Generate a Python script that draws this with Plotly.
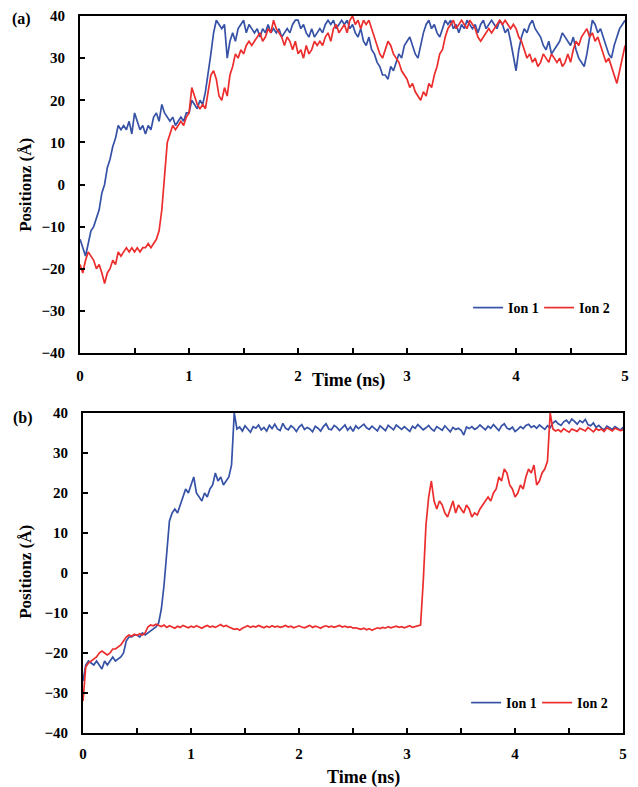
import plotly.graph_objects as go

# ---------------- data ----------------
TIME = [round(i * 0.025, 3) for i in range(201)]

A_ION1 = [
    -13, -15, -17, -14, -11, -10, -8, -6,
    -2, 0, 4, 6, 9, 11, 14, 13,
    14, 13, 15, 12, 17, 15, 13, 14,
    12, 14, 13, 16, 17, 15, 19, 17,
    16, 15, 16, 14, 15, 16, 15, 17,
    17, 20, 19, 18, 20, 19, 22, 26,
    31, 36, 39, 38, 37, 38, 30, 34,
    36, 34, 37, 38, 39, 36, 38, 37,
    36, 37, 35, 37, 36, 38, 36, 37,
    36, 37, 35, 36, 37, 36, 38, 39,
    39, 37, 38, 36, 35, 37, 35, 36,
    37, 36, 38, 39, 38, 39, 37, 38,
    39, 38, 39, 37, 38, 36, 35, 37,
    34, 33, 35, 32, 31, 29, 28, 26,
    26, 25, 28, 27, 29, 31, 30, 33,
    34, 35, 33, 31, 30, 33, 36, 38,
    39, 37, 38, 36, 35, 37, 39, 38,
    39, 37, 38, 36, 38, 37, 39, 38,
    37, 38, 36, 38, 39, 37, 38, 39,
    38, 37, 39, 38, 36, 37, 34, 30,
    27, 32, 35, 37, 36, 38, 39, 37,
    36, 35, 33, 32, 34, 31, 32, 33,
    34, 36, 35, 34, 33, 35, 32, 30,
    29, 28, 31, 35, 39, 38, 36, 37,
    35, 33, 31, 30, 33, 35, 37, 38,
    39,
]

A_ION2 = [
    -19, -21, -18, -16, -17, -18, -20, -19,
    -21, -23.5, -21, -20, -18, -19, -16, -17,
    -16, -15, -16, -15, -16, -15, -16, -15,
    -15, -14, -15, -14, -13, -11, -6, 2,
    10, 12, 14, 13, 14, 15, 14, 16,
    17, 23, 21, 19, 18, 19, 18, 22,
    26, 27, 25, 21, 20, 23, 21, 26,
    28, 31, 30, 32, 31, 33, 34, 33,
    34, 35, 36, 34, 35, 37, 36, 39,
    37, 36, 35, 33, 35, 34, 32, 34,
    31, 32, 30, 33, 31, 32, 34, 33,
    34, 33, 35, 36, 34, 37, 38, 36,
    37, 38, 36, 39, 40, 38, 39, 37,
    39, 38, 39, 37, 35, 33, 31, 30,
    32, 34, 33, 31, 30, 29, 27, 26,
    25, 23, 24, 22, 21, 20, 22, 21,
    24, 23, 26, 28, 31, 32, 35, 37,
    38, 39, 37, 38, 39, 38, 37, 39,
    38, 37, 35, 34, 35, 36, 37, 36,
    37, 38, 39, 38, 39, 38, 37, 38,
    37, 35, 34, 32, 30, 31, 29, 30,
    28, 29, 31, 30, 29, 31, 30, 29,
    30, 28, 29, 31, 29, 32, 34, 33,
    35, 36, 37, 35, 36, 34, 35, 33,
    31, 29, 30, 28, 26, 24, 27, 30,
    33,
]

B_ION1 = [
    -27, -23, -22, -22.5, -23, -22, -23, -24,
    -22, -23, -22, -21, -22, -21.5, -21, -20,
    -17, -16, -16, -15.5, -15.5, -16, -15, -15.5,
    -15, -14.5, -14, -13.5, -12.5, -9, -3, 5,
    13, 15, 16, 15, 17, 19, 21, 20,
    22, 24, 20, 19, 18, 20, 19, 21,
    22, 25, 23, 24, 22, 23, 24, 27,
    40, 36, 36.5, 35.5, 36.8, 36, 35.2, 36.6,
    36.2, 37, 35.8, 36.4, 35.5, 36.9, 36.1, 37.2,
    36, 35.6, 37.4, 36.2, 35.8, 36.8, 36.3, 35.4,
    36.5, 37.1, 35.9, 36.4, 36, 35.3, 36.7, 36.2,
    35.5, 36.6, 37.3, 36, 35.8, 36.9, 36.4, 35.6,
    36.2, 37, 35.7, 36.5, 35.4, 36.8, 36.1, 36.6,
    37.2, 36.3, 35.9, 36.7, 36, 35.5, 36.8, 36.2,
    35.6, 36.9, 36.3, 35.8, 37, 36.4, 35.9, 36.6,
    36.1, 35.4, 36.7, 36.2, 37.1, 36.5, 35.8, 36.3,
    36.9, 36, 35.5, 36.6, 36.2, 35.7, 36.8, 36.1,
    35.3, 36.4, 35.9, 36.2, 35.7, 34.5, 36.5, 36.1,
    36.6, 35.9, 36.3, 37, 36.4, 35.8, 36.7, 36.2,
    37.1, 36.4, 35.6, 36.8, 37.3, 36.2, 35.9, 36.5,
    35.4, 35.9, 36.6, 36.1, 36.9, 37.2, 36.4, 36.8,
    36.2, 37, 36.5, 35.9, 36.8, 36.3, 37.5, 38,
    37.3, 36.9, 37.8, 38.2, 37.4, 38.5, 37.9, 37.2,
    38.1, 37.6, 38.4, 37.1, 36.8, 37.5, 36.4, 36.9,
    36.2, 35.8, 36.7, 36.3, 35.9, 36.6, 36.1, 35.7,
    36.4,
]

B_ION2 = [
    -32, -23.5, -22.5, -22, -21.5, -21, -20, -19.5,
    -20, -20.5, -20, -19, -19, -18.5, -18, -17,
    -16, -15.5, -15.8, -15.3, -15.6, -15.2, -15.5, -15,
    -13.5, -13, -13.2, -12.8, -13.1, -13.4, -13, -13.6,
    -13.2, -13.5, -13.8, -13.3, -13.6, -13.1, -13.4, -13.7,
    -13.3, -13.6, -13.2, -13.5, -13.8, -13.4, -13.1, -13.5,
    -13.3, -13.6, -13.2, -12.9, -13.4, -13.1, -13.5, -13.8,
    -14.1, -13.9, -14.3, -13.8, -13.5, -13.2, -13.6, -13.3,
    -13.5, -13.1, -13.4, -13.7, -13.3, -13.6, -13.2, -13.5,
    -13.3, -13.6, -13.4, -13.1, -13.5, -13.3, -13.7, -13.4,
    -13.2, -13.5, -13.7, -13.4, -13.1, -13.6, -13.3, -13.5,
    -13.8, -13.4, -13.2, -13.5, -13.3, -13.6, -13.4, -13.1,
    -13.5, -13.3, -13.6, -13.4, -13.8, -13.7, -13.9, -14.1,
    -13.8, -14.2, -13.9, -14.3, -14, -13.7, -13.9, -13.6,
    -13.8, -13.4, -13.7, -13.5, -13.3, -13.6, -13.4, -13.7,
    -13.5, -13.2, -13.6, -13.4, -13.3, -13, -2, 12,
    19, 23, 18, 16, 18, 17, 15, 14,
    16, 18, 15, 17, 16, 15, 17, 16,
    14, 15, 14.5, 16, 17, 18, 19, 18,
    20, 21, 24, 23, 26, 25, 22, 21,
    19, 20, 22, 21, 24, 26, 25, 27,
    22, 23, 25, 26, 28, 40, 36, 35.5,
    35.8, 35.3, 36.1, 35.6, 35.2, 36, 35.7, 35.4,
    36.2, 35.8, 35.5, 36.4, 35.9, 35.3, 36.1, 35.7,
    36, 35.4, 36.3, 35.8, 35.5, 36.2, 35.9, 35.6,
    35.8,
]

SERIES_NAMES = ["Ion 1", "Ion 2"]
X_TICKS = [0, 1, 2, 3, 4, 5]
Y_TICKS = [-40, -30, -20, -10, 0, 10, 20, 30, 40]
X_RANGE = [0, 5]
Y_RANGE = [-40, 40]
X_TITLE = "Time (ns)"
Y_TITLE = "Positionz (Å)"
PANEL_LABELS = ["(a)", "(b)"]

# ---------------- style ----------------
WIN_W, WIN_H = 638, 787
OFFSET = 8                      # page body margin in the browser
W, H = WIN_W - 2 * OFFSET, WIN_H - OFFSET   # visible area of the page
BLUE = "#3652A6"
RED = "#EC2D2D"
FONT = "Liberation Serif"


def px_x(p):
    """reference pixel x -> paper fraction (squeezed into the visible width)"""
    return (p - OFFSET) / (WIN_W - OFFSET)


def px_y(p):
    """reference pixel y (from top) -> paper fraction"""
    return 1 - (p - OFFSET) / H


fig = go.Figure()
fig.add_trace(go.Scatter(x=TIME, y=A_ION1, name=SERIES_NAMES[0], mode="lines",
                         line=dict(color=BLUE, width=1.7), xaxis="x", yaxis="y", legend="legend"))
fig.add_trace(go.Scatter(x=TIME, y=A_ION2, name=SERIES_NAMES[1], mode="lines",
                         line=dict(color=RED, width=1.7), xaxis="x", yaxis="y", legend="legend"))
fig.add_trace(go.Scatter(x=TIME, y=B_ION1, name=SERIES_NAMES[0], mode="lines",
                         line=dict(color=BLUE, width=1.7), xaxis="x2", yaxis="y2", legend="legend2"))
fig.add_trace(go.Scatter(x=TIME, y=B_ION2, name=SERIES_NAMES[1], mode="lines",
                         line=dict(color=RED, width=1.7), xaxis="x2", yaxis="y2", legend="legend2"))

tickfont = dict(family=FONT, size=15, color="black", weight="bold")


def xaxis_cfg(domain, anchor, standoff):
    return dict(domain=domain, anchor=anchor, range=X_RANGE, tickvals=X_TICKS,
                showline=True, linecolor="black", linewidth=2, mirror=True,
                ticks="inside", ticklen=5, tickwidth=1.5, tickcolor="black",
                minor=dict(dtick=0.5, ticks="inside", ticklen=5, tickwidth=1.5, tickcolor="black"),
                showgrid=False, zeroline=False, tickfont=tickfont, ticklabelstandoff=standoff,
                automargin=False)


def yaxis_cfg(domain, anchor):
    return dict(domain=domain, anchor=anchor, range=Y_RANGE, tickvals=Y_TICKS,
                showline=True, linecolor="black", linewidth=2, mirror=True,
                ticks="inside", ticklen=5, tickwidth=1.5, tickcolor="black",
                showgrid=False, zeroline=False, tickfont=tickfont, ticklabelstandoff=10,
                automargin=False)


legend_common = dict(orientation="h", bgcolor="rgba(0,0,0,0)", borderwidth=0,
                     font=dict(family=FONT, size=14, color="black", weight="bold"),
                     yanchor="middle", xanchor="left", itemwidth=30, tracegroupgap=0,
                     entrywidth=26, entrywidthmode="pixels")

fig.update_layout(
    template="none",
    width=W, height=H,
    margin=dict(l=0, r=0, t=0, b=0, pad=0, autoexpand=False),
    paper_bgcolor="white", plot_bgcolor="white",
    font=dict(family=FONT, size=15, color="black", weight="bold"),
    xaxis=xaxis_cfg([px_x(81), px_x(633)], "y", 8),
    yaxis=yaxis_cfg([px_y(353), px_y(16)], "x"),
    xaxis2=xaxis_cfg([px_x(84), px_x(631)], "y2", 6),
    yaxis2=yaxis_cfg([px_y(733), px_y(413)], "x2"),
    legend=dict(legend_common, x=px_x(474), y=px_y(308)),
    legend2=dict(legend_common, x=px_x(472), y=px_y(703)),
    showlegend=True,
)

ann_font = lambda s: dict(family=FONT, size=s, color="black", weight="bold")
annotations = [
    dict(text=PANEL_LABELS[0], x=px_x(22), y=px_y(19), font=ann_font(16)),
    dict(text=PANEL_LABELS[1], x=px_x(23), y=px_y(418), font=ann_font(16)),
    dict(text=X_TITLE, x=px_x(353), y=px_y(380), font=ann_font(18)),
    dict(text=X_TITLE, x=px_x(368), y=px_y(777), font=ann_font(18)),
    dict(text=Y_TITLE, x=px_x(25), y=px_y(185), font=ann_font(17), textangle=-90),
    dict(text=Y_TITLE, x=px_x(25), y=px_y(572), font=ann_font(17), textangle=-90),
]
for a in annotations:
    a.update(xref="paper", yref="paper", showarrow=False, xanchor="center", yanchor="middle")
fig.update_layout(annotations=annotations)

fig.write_html("out.html")
